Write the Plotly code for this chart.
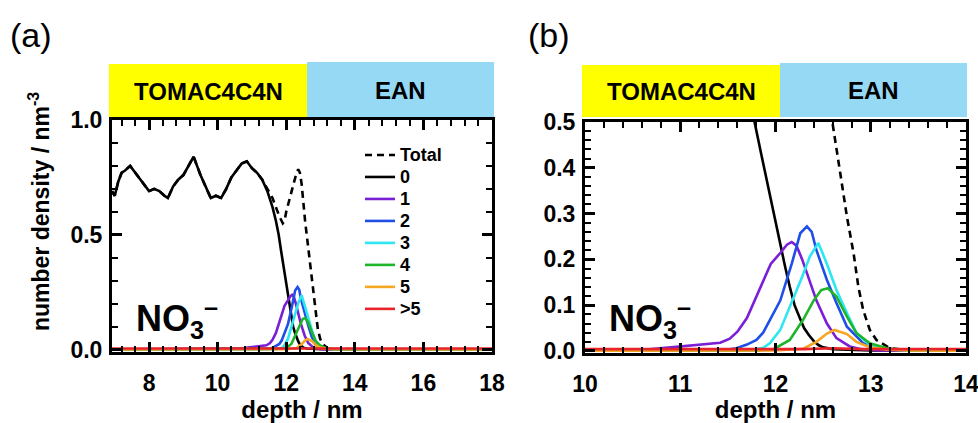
import plotly.graph_objects as go

# ---- number density profiles of NO3- by coordination number (depth in nm) ----
depth_total = [6.92, 7.0, 7.1, 7.2, 7.3, 7.45, 7.55, 7.7, 7.85, 8.0, 8.15, 8.3, 8.45, 8.55, 8.7,
               8.85, 9.0, 9.15, 9.3, 9.4, 9.5, 9.65, 9.8, 9.95, 10.1, 10.25, 10.4, 10.55, 10.7,
               10.85, 11.0, 11.15, 11.3, 11.45, 11.6, 11.7, 11.8, 11.9, 11.95, 12.0, 12.1, 12.2,
               12.3, 12.35, 12.4, 12.45, 12.5, 12.55, 12.6, 12.68, 12.75, 12.82, 12.87, 12.92,
               12.99, 13.06, 13.2, 13.38, 14.0, 18.0]
dens_total = [0.69, 0.67, 0.73, 0.77, 0.78, 0.80, 0.78, 0.75, 0.72, 0.69, 0.70, 0.69, 0.67, 0.66, 0.71,
              0.74, 0.76, 0.80, 0.84, 0.80, 0.76, 0.71, 0.66, 0.67, 0.66, 0.70, 0.75, 0.78, 0.81,
              0.82, 0.79, 0.77, 0.74, 0.70, 0.66, 0.62, 0.58, 0.55, 0.56, 0.60, 0.66, 0.72,
              0.77, 0.785, 0.77, 0.72, 0.63, 0.56, 0.497, 0.388, 0.293, 0.213, 0.14, 0.09,
              0.046, 0.024, 0.006, 0.002, 0.001, 0.0]

depth_0 = [6.92, 7.0, 7.1, 7.2, 7.3, 7.45, 7.55, 7.7, 7.85, 8.0, 8.15, 8.3, 8.45, 8.55, 8.7,
           8.85, 9.0, 9.15, 9.3, 9.4, 9.5, 9.65, 9.8, 9.95, 10.1, 10.25, 10.4, 10.55, 10.7,
           10.85, 11.0, 11.15, 11.3, 11.45, 11.6, 11.7, 11.78, 11.85, 11.9, 11.95, 12.0, 12.05,
           12.1, 12.15, 12.2, 12.25, 12.3, 12.35, 12.4, 12.45, 12.5, 12.6, 12.8, 13.0, 18.0]
dens_0 = [0.69, 0.67, 0.73, 0.77, 0.78, 0.80, 0.78, 0.75, 0.72, 0.69, 0.70, 0.69, 0.67, 0.66, 0.71,
          0.74, 0.76, 0.80, 0.84, 0.80, 0.76, 0.71, 0.66, 0.67, 0.66, 0.70, 0.75, 0.78, 0.81,
          0.82, 0.79, 0.77, 0.74, 0.69, 0.62, 0.56, 0.50, 0.43, 0.38, 0.33, 0.28, 0.235,
          0.185, 0.14, 0.10, 0.075, 0.05, 0.035, 0.022, 0.013, 0.008, 0.004, 0.002, 0.001, 0.0]

depth_1 = [6.92, 10.5, 10.7, 10.89, 11.0, 11.1, 11.24, 11.42, 11.52, 11.6, 11.7, 11.8, 11.87,
           11.95, 12.05, 12.12, 12.17, 12.22, 12.28, 12.33, 12.43, 12.54, 12.64, 12.78, 12.9,
           13.1, 18.0]
dens_1 = [0.0, 0.001, 0.004, 0.008, 0.010, 0.012, 0.015, 0.018, 0.027, 0.042, 0.072, 0.12, 0.155,
          0.19, 0.214, 0.232, 0.238, 0.23, 0.20, 0.17, 0.11, 0.06, 0.028, 0.01, 0.004,
          0.001, 0.0]

depth_2 = [6.92, 11.3, 11.5, 11.59, 11.7, 11.8, 11.87, 11.95, 12.05, 12.17, 12.26, 12.33, 12.38,
           12.43, 12.54, 12.64, 12.75, 12.92, 13.1, 13.3, 18.0]
dens_2 = [0.0, 0.001, 0.003, 0.006, 0.014, 0.024, 0.04, 0.07, 0.11, 0.19, 0.257, 0.272, 0.26,
          0.22, 0.155, 0.105, 0.053, 0.017, 0.005, 0.002, 0.0]

depth_3 = [6.92, 11.7, 11.87, 11.94, 12.05, 12.17, 12.28, 12.36, 12.45, 12.54, 12.64, 12.75,
           12.85, 12.99, 13.17, 13.4, 18.0]
dens_3 = [0.0, 0.001, 0.007, 0.017, 0.046, 0.105, 0.162, 0.206, 0.236, 0.19, 0.133, 0.083,
          0.039, 0.013, 0.004, 0.001, 0.0]

depth_4 = [6.92, 11.8, 11.97, 12.15, 12.29, 12.4, 12.48, 12.55, 12.64, 12.75, 12.85, 12.99,
           13.17, 13.4, 18.0]
dens_4 = [0.0, 0.001, 0.003, 0.024, 0.068, 0.11, 0.133, 0.137, 0.119, 0.075, 0.039, 0.017,
          0.006, 0.001, 0.0]

depth_5 = [6.92, 12.0, 12.29, 12.43, 12.54, 12.62, 12.75, 12.85, 12.99, 13.17, 13.4, 18.0]
dens_5 = [0.0, 0.001, 0.005, 0.02, 0.038, 0.046, 0.037, 0.02, 0.008, 0.003, 0.001, 0.0]

depth_6 = [6.92, 12.3, 12.6, 12.9, 18.0]
dens_6 = [0.004, 0.004, 0.006, 0.004, 0.004]

series_names = ["Total", "0", "1", "2", "3", "4", "5", ">5"]
series_colors = ["#000000", "#000000", "#7a1fd6", "#1f4fe6", "#2ee6f2", "#1fb52a", "#f5a623", "#e8232a"]
series_depths = [depth_total, depth_0, depth_1, depth_2, depth_3, depth_4, depth_5, depth_6]
series_dens = [dens_total, dens_0, dens_1, dens_2, dens_3, dens_4, dens_5, dens_6]

# axis settings per panel: x range, major/minor x step, y range, major/minor y step
panel_xrange = [[6.92, 18], [10, 14]]
panel_xstep = [(2, 0.4), (1, 0.2)]
panel_yrange = [[-0.011, 1.0], [-0.0044, 0.5]]
panel_ystep = [(0.5, 0.1), (0.1, 0.02)]

FONT = "Liberation Sans, Arial, sans-serif"
W, H = 978, 423


def px_x(p):
    return p / W


def px_y(p):
    return 1 - p / H


panel_xdomain = [[px_x(112), px_x(492)], [px_x(585), px_x(966)]]
panel_ydomain = [[px_y(352), px_y(120)], [px_y(353), px_y(122)]]

fig = go.Figure()

for panel, (xa, ya) in enumerate([("x", "y"), ("x2", "y2")]):
    for name, color, xs, ys in zip(series_names, series_colors, series_depths, series_dens):
        label = name.replace(">", "&gt;")
        fig.add_trace(go.Scatter(
            x=xs, y=ys, mode="lines",
            # compact legend rows, larger bold glyphs
            name=f'<span style="font-size:18px"><b>{label}</b></span>',
            line=dict(color=color, width=2.6, dash="7px,5px" if name == "Total" else "solid"),
            xaxis=xa, yaxis=ya, showlegend=(panel == 0),
        ))

tickfont = dict(family=FONT, size=23, color="black")
titlefont = dict(family=FONT, size=24, color="black")


def minor(step):
    return dict(dtick=step, ticks="inside", ticklen=6, tickwidth=2, tickcolor="#000000")


frame = dict(showline=True, linecolor="black", linewidth=3, mirror="allticks",
             ticks="inside", ticklen=10, tickwidth=3, tickcolor="#000000",
             showgrid=False, zeroline=False, tickfont=tickfont,
             tickprefix="<b>", ticksuffix="</b>", ticklabeloverflow="allow")

layout = dict(
    template="none",
    width=W, height=H, margin=dict(l=0, r=0, t=0, b=0),
    paper_bgcolor="white", plot_bgcolor="white",
    legend=dict(x=px_x(360), y=px_y(139), xanchor="left", yanchor="top",
                bgcolor="rgba(0,0,0,0)", font=dict(family=FONT, size=14.6, color="black"),
                tracegroupgap=0, itemwidth=30),
    showlegend=True,
)

for i in range(2):
    sx = "" if i == 0 else "2"
    layout["xaxis" + sx] = dict(domain=panel_xdomain[i], range=panel_xrange[i], dtick=panel_xstep[i][0],
                                anchor="y" + sx, ticklabelstandoff=8, minor=minor(panel_xstep[i][1]),
                                title=dict(text="<b>depth / nm</b>", font=titlefont, standoff=6),
                                **frame)
    layout["yaxis" + sx] = dict(domain=panel_ydomain[i], range=panel_yrange[i], dtick=panel_ystep[i][0],
                                tickformat=".1f", anchor="x" + sx, ticklabelstandoff=2,
                                minor=minor(panel_ystep[i][1]), **frame)

fig.update_layout(**layout)

# phase banners above each panel
banners = [
    (109, 307, 64, 117, "#ffff00", "TOMAC4C4N"),
    (307, 494, 62, 117, "#96d9f5", "EAN"),
    (582, 780, 65, 117, "#ffff00", "TOMAC4C4N"),
    (780, 967, 63, 117, "#96d9f5", "EAN"),
]
for x0, x1, y0, y1, fill, label in banners:
    fig.add_shape(type="rect", xref="paper", yref="paper",
                  x0=px_x(x0), x1=px_x(x1), y0=px_y(y1), y1=px_y(y0),
                  fillcolor=fill, line=dict(width=0), layer="below")
    fig.add_annotation(xref="paper", yref="paper", x=px_x((x0 + x1) / 2), y=px_y((y0 + y1) / 2 + 1),
                       text=f"<b>{label}</b>", showarrow=False, xanchor="center", yanchor="middle",
                       font=dict(family=FONT, size=24, color="black"))

# panel letters
for xl, lab in [(8, "(a)"), (526, "(b)")]:
    fig.add_annotation(xref="paper", yref="paper", x=px_x(xl), y=px_y(35), text=lab,
                       showarrow=False, xanchor="left", yanchor="middle",
                       font=dict(family=FONT, size=34, color="black"))

# species label inside each panel
for xl in [134, 607]:
    fig.add_annotation(xref="paper", yref="paper", x=px_x(xl), y=px_y(318),
                       text="<b>NO<sub>3</sub><sup>–</sup></b>", showarrow=False,
                       xanchor="left", yanchor="middle",
                       font=dict(family=FONT, size=36, color="black"))

# y-axis title for the left panel
fig.add_annotation(xref="paper", yref="paper", x=px_x(39), y=px_y(212),
                   text="<b>number density / nm<sup>-3</sup></b>", textangle=-90, showarrow=False,
                   xanchor="center", yanchor="middle",
                   font=dict(family=FONT, size=23, color="black"))

fig.write_html("out.html")
